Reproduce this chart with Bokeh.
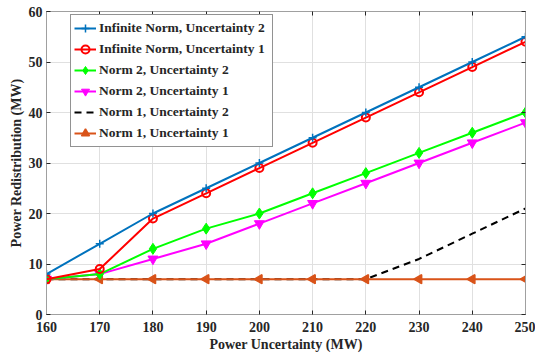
import numpy as np
from bokeh.plotting import figure
from bokeh.models import LinearAxis, Range1d, FixedTicker, Legend, LegendItem
from bokeh.embed import file_html
from bokeh.resources import INLINE

x = [160, 170, 180, 190, 200, 210, 220, 230, 240, 250]
inf_u2 = [8, 14, 20, 25, 30, 35, 40, 45, 50, 55]
inf_u1 = [7, 9, 19, 24, 29, 34, 39, 44, 49, 54]
n2_u2 = [7, 8, 13, 17, 20, 24, 28, 32, 36, 40]
n2_u1 = [7, 8, 11, 14, 18, 22, 26, 30, 34, 38]
n1_u2 = [7, 7, 7, 7, 7, 7, 7, 11, 16, 21]
n1_u1 = [7, 7, 7, 7, 7, 7, 7, 7, 7, 7]
xticks = [160, 170, 180, 190, 200, 210, 220, 230, 240, 250]
yticks = [0, 10, 20, 30, 40, 50, 60]

FONT = "Liberation Serif"
LINE_C = "#a0a0a0"
TICK_C = "#262626"
p = figure(frame_width=479, frame_height=303, output_backend="svg", toolbar_location=None,
           x_range=Range1d(160, 250), y_range=Range1d(0, 60),
           min_border_left=46, min_border_right=10, min_border_top=11, min_border_bottom=44)
p.outline_line_color = LINE_C
p.outline_line_width = 1

for ax in (p.xaxis[0], p.yaxis[0]):
    ax.major_label_text_font = FONT
    ax.major_label_text_font_style = "bold"
    ax.major_label_text_font_size = "14px"
    ax.major_label_text_color = "#262626"
    ax.axis_label_text_font = FONT
    ax.axis_label_text_font_style = "bold"
    ax.axis_label_text_font_size = "14px"
    ax.axis_label_text_color = "#262626"
    ax.axis_line_color = LINE_C
    ax.major_tick_line_color = TICK_C
    ax.major_tick_in = 4
    ax.major_tick_out = 0
    ax.minor_tick_line_color = None
p.xaxis[0].ticker = FixedTicker(ticks=xticks)
p.yaxis[0].ticker = FixedTicker(ticks=yticks)
p.xaxis[0].axis_label = "Power Uncertainty (MW)"
p.yaxis[0].axis_label = "Power Redistribution (MW)"
p.xaxis[0].major_label_standoff = 7
p.xaxis[0].axis_label_standoff = 2
p.yaxis[0].major_label_standoff = 4
p.yaxis[0].axis_label_standoff = 2

for loc, tk in (("above", xticks), ("right", yticks)):
    a = LinearAxis(ticker=FixedTicker(ticks=tk), major_label_text_font_size="1px",
                   major_label_text_color=None,
                   major_tick_in=4, major_tick_out=0, minor_tick_line_color=None,
                   axis_line_color=LINE_C, major_tick_line_color=TICK_C,
                   major_label_standoff=0)
    p.add_layout(a, loc)

p.xgrid.ticker = FixedTicker(ticks=xticks)
p.ygrid.ticker = FixedTicker(ticks=yticks)
p.grid.grid_line_color = "#e0e0e0"
p.grid.grid_line_width = 1

r_n1u2 = p.line(x, n1_u2, line_color="black", line_width=2, line_dash="7 5")
r_n1u1 = p.line(x, n1_u1, line_color="#D95319", line_width=2)
s_n1u1 = p.scatter(x, n1_u1, marker="triangle", angle=np.pi / 2, size=9,
                   line_color="#D95319", fill_color="#D95319", line_width=1.5)
r_n2u1 = p.line(x, n2_u1, line_color="#FF00FF", line_width=2)
s_n2u1 = p.scatter(x, n2_u1, marker="inverted_triangle", size=10,
                   line_color="#FF00FF", fill_color="#FF00FF")
r_n2u2 = p.line(x, n2_u2, line_color="#00FF00", line_width=2)
s_n2u2 = p.scatter(x, n2_u2, marker="diamond", size=11,
                   line_color="#00FF00", fill_color="#00FF00")
r_i1 = p.line(x, inf_u1, line_color="#FF0000", line_width=2)
s_i1 = p.scatter(x, inf_u1, marker="circle", size=8, line_color="#FF0000",
                 fill_color=None, line_width=2)
r_i2 = p.line(x, inf_u2, line_color="#0072BD", line_width=2)
s_i2 = p.scatter(x, inf_u2, marker="cross", size=8, line_color="#0072BD", line_width=1.5)

legend = Legend(items=[
    LegendItem(label="Infinite Norm, Uncertainty 2", renderers=[r_i2, s_i2]),
    LegendItem(label="Infinite Norm, Uncertainty 1", renderers=[r_i1, s_i1]),
    LegendItem(label="Norm 2, Uncertainty 2", renderers=[r_n2u2, s_n2u2]),
    LegendItem(label="Norm 2, Uncertainty 1", renderers=[r_n2u1, s_n2u1]),
    LegendItem(label="Norm 1, Uncertainty 2", renderers=[r_n1u2]),
    LegendItem(label="Norm 1, Uncertainty 1", renderers=[r_n1u1, s_n1u1]),
], location=(24, 167))
legend.label_text_font = FONT
legend.label_text_font_style = "bold"
legend.label_text_font_size = "13.5px"
legend.label_text_color = "#262626"
legend.glyph_width = 22
legend.glyph_height = 20
legend.label_height = 20
legend.label_width = 170
legend.spacing = 1
legend.padding = 3
legend.margin = 0
legend.label_standoff = 3
legend.border_line_color = "#262626"
legend.border_line_width = 1
legend.background_fill_alpha = 1
p.add_layout(legend, "center")

open("out.html", "w").write(file_html(p, INLINE))
